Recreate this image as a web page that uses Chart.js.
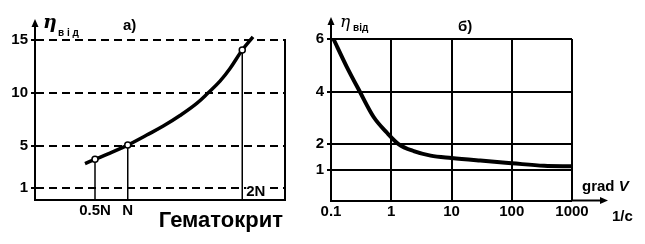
<!DOCTYPE html>
<html><head><meta charset="utf-8">
<script src="https://cdn.jsdelivr.net/npm/chart.js@4.4.1/dist/chart.umd.min.js"></script>
<style>
html,body{margin:0;padding:0;background:#fff;width:645px;height:244px;overflow:hidden}
#a{position:absolute;left:0;top:0}
#b{position:absolute;left:300px;top:0}
</style></head><body>
<canvas id="a" width="300" height="244"></canvas>
<canvas id="b" width="345" height="244"></canvas>
<script>
// ---- Panel а): relative viscosity vs haematocrit ----
const hctX = [20, 24, 30, 37.1, 44.7, 51.3, 58, 64.7, 69.3, 74, 78, 82.9, 87.2];
const hctY = [3.3, 3.7, 4.3, 5.05, 6.0, 6.85, 7.85, 9.0, 10, 11.1, 12.3, 14.05, 15.3];
const markX = [24, 37.1, 82.9];
const markY = [3.7, 5.05, 14.05];
const markLabels = ['0.5N', 'N', '2N'];
const yTicksA = [1, 5, 10, 15];
// ---- Panel б): relative viscosity vs velocity gradient ----
const gradX = [0.11, 0.18, 0.30, 0.51, 0.85, 1.32, 2.36, 4.5, 10, 30, 100, 345, 1000];
const gradY = [6.0, 4.97, 4.0, 3.03, 2.43, 2.0, 1.73, 1.56, 1.47, 1.37, 1.27, 1.17, 1.15];
const xTicksB = [0.1, 1, 10, 100, 1000];
const xTickLabelsB = ['0.1', '1', '10', '100', '1000'];
const yTicksB = [1, 2, 4, 6];

const FONT = "'Liberation Sans', Arial, sans-serif";
Chart.defaults.font.family = FONT;
Chart.defaults.font.weight = 'bold';
Chart.defaults.font.size = 15;
Chart.defaults.color = '#000';

function arrowUp(ctx, x, y0, y1) {
  ctx.beginPath(); ctx.moveTo(x, y0); ctx.lineTo(x, y1 + 6); ctx.stroke();
  ctx.beginPath(); ctx.moveTo(x, y1); ctx.lineTo(x - 3.5, y1 + 8); ctx.lineTo(x + 3.5, y1 + 8); ctx.closePath(); ctx.fill();
}
function arrowRight(ctx, y, x0, x1) {
  ctx.beginPath(); ctx.moveTo(x0, y); ctx.lineTo(x1 - 6, y); ctx.stroke();
  ctx.beginPath(); ctx.moveTo(x1, y); ctx.lineTo(x1 - 8, y - 3.5); ctx.lineTo(x1 - 8, y + 3.5); ctx.closePath(); ctx.fill();
}

const decorA = {
  id: 'decorA',
  afterDraw(chart) {
    const {ctx, chartArea: ca, scales: {x}} = chart;
    ctx.save();
    ctx.strokeStyle = '#000'; ctx.fillStyle = '#000'; ctx.lineWidth = 2;
    arrowUp(ctx, ca.left, ca.top, 19);
    ctx.beginPath(); ctx.moveTo(ca.right, ca.top - 1); ctx.lineTo(ca.right, ca.bottom); ctx.stroke();
    // eta label
    ctx.font = "italic bold 19px 'DejaVu Serif', serif";
    ctx.textBaseline = 'alphabetic'; ctx.textAlign = 'left';
    ctx.fillText('η', 43, 28);
    ctx.font = "bold 10px " + FONT;
    ctx.fillText('в і д', 58, 36);
    ctx.font = "bold 15px " + FONT;
    ctx.fillText('а)', 123, 30);
    // 2N label
    const px = x.getPixelForValue(markX[2]) + 4;
    const w = ctx.measureText(markLabels[2]).width;
    ctx.fillStyle = '#fff'; ctx.fillRect(px, 184, w + 1, 12);
    ctx.fillStyle = '#000';
    ctx.fillText(markLabels[2], px, 196);
    // axis title
    ctx.font = "bold 22px " + FONT;
    ctx.textAlign = 'right';
    ctx.fillText('Гематокрит', ca.right - 2, 227);
    ctx.restore();
  }
};

new Chart(document.getElementById('a'), {
  type: 'scatter',
  data: {
    datasets: [
      { data: markX.map((v, i) => ({x: v, y: markY[i]})), showLine: false, pointRadius: 3,
        pointBackgroundColor: '#fff', pointBorderColor: '#000', pointBorderWidth: 1.5, order: 0, clip: false },
      { data: hctX.map((v, i) => ({x: v, y: hctY[i]})), showLine: true, borderColor: '#000', borderWidth: 3.5,
        pointRadius: 0, tension: 0.4, order: 1, clip: false },
      ...markX.map((v, i) => ({ data: [{x: v, y: -0.1}, {x: v, y: markY[i]}], showLine: true, borderColor: '#000',
        borderWidth: 1.5, pointRadius: 0, order: 2 }))
    ]
  },
  options: {
    responsive: false, animation: false, events: [],
    layout: { padding: { left: 0, top: 40, right: 15, bottom: 0 } },
    plugins: { legend: { display: false }, tooltip: { enabled: false } },
    scales: {
      x: {
        type: 'linear', min: 0, max: 100,
        afterBuildTicks: s => { s.ticks = markX.slice(0, 2).map(v => ({value: v})); },
        afterFit: s => { s.height = 44.5; },
        ticks: { autoSkip: false, maxRotation: 0, padding: 2, callback: (v, i) => markLabels[i] },
        grid: { display: false, drawTicks: false },
        border: { display: true, color: '#000', width: 2 }
      },
      y: {
        min: -0.1, max: 15,
        afterBuildTicks: s => { s.ticks = yTicksA.map(v => ({value: v})); },
        afterFit: s => { s.width = 35; },
        ticks: { padding: 3, callback: v => String(v) },
        grid: { color: '#000', lineWidth: 2, drawTicks: true, tickLength: 4, tickWidth: 2, tickColor: '#000' },
        border: { display: true, color: '#000', width: 2, dash: [8, 5] }
      }
    }
  },
  plugins: [decorA]
});

const decorB = {
  id: 'decorB',
  afterDraw(chart) {
    const {ctx, chartArea: ca} = chart;
    ctx.save();
    ctx.strokeStyle = '#000'; ctx.fillStyle = '#000'; ctx.lineWidth = 2;
    arrowUp(ctx, ca.left, ca.top, 17);
    arrowRight(ctx, ca.bottom, ca.right, 308);
    ctx.textBaseline = 'alphabetic'; ctx.textAlign = 'left';
    ctx.font = "italic 17px 'DejaVu Serif', serif";
    ctx.fillText('η', 40, 27);
    ctx.font = "bold 10px " + FONT;
    ctx.fillText('від', 53, 31);
    ctx.font = "bold 15px " + FONT;
    ctx.fillText('б)', 158, 31);
    ctx.fillText('grad ', 282, 191);
    const gw = ctx.measureText('grad ').width;
    ctx.font = "italic bold 15px " + FONT;
    ctx.fillText('V', 282 + gw, 191);
    ctx.font = "bold 15px " + FONT;
    ctx.fillText('1/с', 312, 221);
    ctx.restore();
  }
};

new Chart(document.getElementById('b'), {
  type: 'scatter',
  data: {
    datasets: [
      { data: gradX.map((v, i) => ({x: v, y: gradY[i]})), showLine: true, borderColor: '#000', borderWidth: 4,
        pointRadius: 0, cubicInterpolationMode: 'monotone', clip: false }
    ]
  },
  options: {
    responsive: false, animation: false, events: [],
    layout: { padding: { left: 0, top: 39, right: 73, bottom: 0 } },
    plugins: { legend: { display: false }, tooltip: { enabled: false } },
    scales: {
      x: {
        type: 'logarithmic', min: 0.1, max: 1000,
        afterBuildTicks: s => { s.ticks = xTicksB.map(v => ({value: v})); },
        afterFit: s => { s.height = 43.5; },
        ticks: { autoSkip: false, maxRotation: 0, padding: 2, callback: (v, i) => xTickLabelsB[i] },
        grid: { color: '#000', lineWidth: c => (c.index === 0 ? 0 : 2), drawTicks: false },
        border: { display: true, color: '#000', width: 2 }
      },
      y: {
        min: -0.15, max: 6,
        afterBuildTicks: s => { s.ticks = yTicksB.map(v => ({value: v})); },
        afterFit: s => { s.width = 31; },
        ticks: { padding: 3, callback: v => String(v) },
        grid: { color: '#000', lineWidth: 2, drawTicks: true, tickLength: 4, tickWidth: 2, tickColor: '#000' },
        border: { display: true, color: '#000', width: 2 }
      }
    }
  },
  plugins: [decorB]
});
</script>
</body></html>
